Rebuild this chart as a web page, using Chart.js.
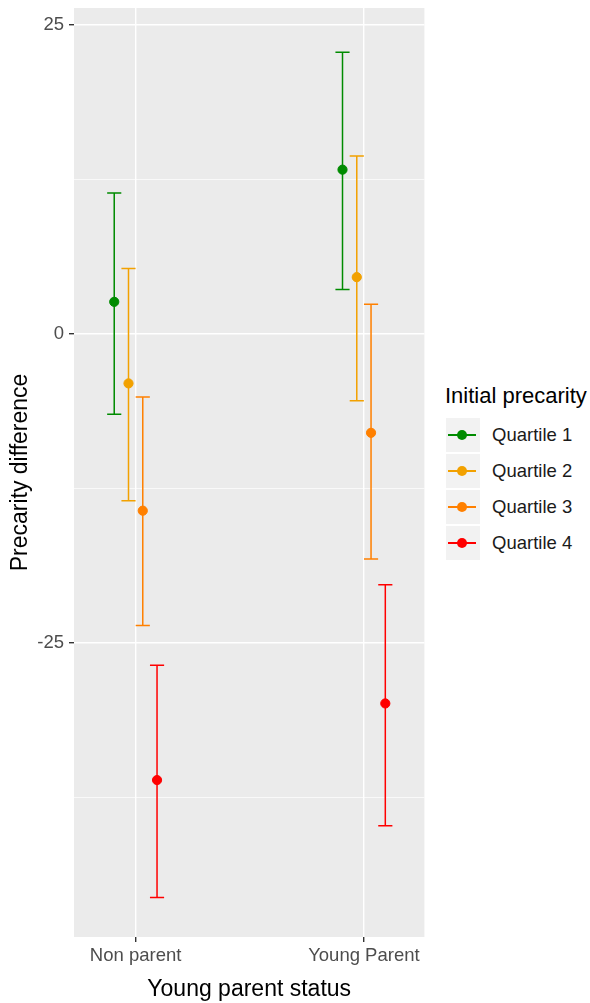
<!DOCTYPE html>
<html>
<head>
<meta charset="utf-8">
<script src="https://cdn.jsdelivr.net/npm/chart.js@4"></script>
<style>
  body { margin: 0; background: #fff; font-family: "Liberation Sans", Arial, sans-serif; }
  #wrap { position: relative; width: 590px; height: 1003px; }
  #chartBox { position: absolute; left: 0; top: 0; width: 430px; height: 1003px; }
  #legend { position: absolute; left: 445px; top: 381px; white-space: nowrap; }
  #legend .title { font-size: 22px; color: #000; line-height: 30px; margin-bottom: 6px; }
  #legend .row { display: flex; align-items: center; height: 36px; }
  #legend .key { position: relative; width: 34px; height: 34px; background: #F2F2F2; margin-left: 1px; }
  #legend .key .ln { position: absolute; left: 2px; right: 4px; top: 16px; height: 2px; }
  #legend .key .dot { position: absolute; left: 11px; top: 12px; width: 10px; height: 10px; border-radius: 50%; }
  #legend .lab { font-size: 18.5px; color: #1a1a1a; margin-left: 12px; }
</style>
</head>
<body>
<div id="wrap">
  <div id="chartBox"><canvas id="chart" width="430" height="1003"></canvas></div>
  <div id="legend"></div>
</div>
<script>
// Categories and groups
const statusLabels = ['Non parent', 'Young Parent'];
const quartiles = ['Quartile 1', 'Quartile 2', 'Quartile 3', 'Quartile 4'];
const quartileColors = ['#008B00', '#F2A100', '#FF8000', '#FF0000'];

// Mean precarity difference, one entry per status (Non parent, Young Parent)
const meanQ1 = [2.6, 13.3];
const meanQ2 = [-4.0, 4.6];
const meanQ3 = [-14.3, -8.0];
const meanQ4 = [-36.1, -29.9];

// Lower / upper bounds of the error bars
const lowQ1 = [-6.5, 3.6];
const highQ1 = [11.4, 22.8];
const lowQ2 = [-13.5, -5.4];
const highQ2 = [5.3, 14.4];
const lowQ3 = [-23.6, -18.2];
const highQ3 = [-5.1, 2.4];
const lowQ4 = [-45.6, -39.8];
const highQ4 = [-26.8, -20.3];

// Y tick values (major labelled, minor only gridlines)
const yMajorTicks = [-25, 0, 25];
const yMinorTicks = [-37.5, -12.5, 12.5];

const means = [meanQ1, meanQ2, meanQ3, meanQ4];
const lows = [lowQ1, lowQ2, lowQ3, lowQ4];
const highs = [highQ1, highQ2, highQ3, highQ4];

// dodge offsets (position_dodge-like) and errorbar cap half width, in x units
const dodge = [-0.09375, -0.03125, 0.03125, 0.09375];
const capHalf = 0.031;

const datasets = quartiles.map((q, i) => ({
    label: q,
    data: statusLabels.map((s, j) => ({ x: j + 1 + dodge[i], y: means[i][j], lo: lows[i][j], hi: highs[i][j] })),
    backgroundColor: quartileColors[i],
    borderColor: quartileColors[i],
    pointRadius: 4.6,
    pointHoverRadius: 4.6,
    showLine: false
}));

// grey panel behind the grid
const panelBg = {
    id: 'panelBg',
    beforeDraw(chart) {
        const { ctx, chartArea: a } = chart;
        ctx.save();
        ctx.fillStyle = '#EBEBEB';
        ctx.fillRect(a.left, a.top, a.right - a.left, a.bottom - a.top);
        ctx.restore();
    }
};

// error bars drawn through the scales
const errorBars = {
    id: 'errorBars',
    beforeDatasetsDraw(chart) {
        const { ctx, scales: { x, y } } = chart;
        ctx.save();
        ctx.lineWidth = 1.5;
        chart.data.datasets.forEach(ds => {
            ctx.strokeStyle = ds.borderColor;
            ds.data.forEach(p => {
                const px = x.getPixelForValue(p.x);
                const x0 = x.getPixelForValue(p.x - capHalf);
                const x1 = x.getPixelForValue(p.x + capHalf);
                const yl = y.getPixelForValue(p.lo);
                const yh = y.getPixelForValue(p.hi);
                ctx.beginPath();
                ctx.moveTo(px, yl); ctx.lineTo(px, yh);
                ctx.moveTo(x0, yl); ctx.lineTo(x1, yl);
                ctx.moveTo(x0, yh); ctx.lineTo(x1, yh);
                ctx.stroke();
            });
        });
        ctx.restore();
    }
};

const tickFont = { family: '"Liberation Sans", Arial, sans-serif', size: 18.5 };
const titleFont = { family: '"Liberation Sans", Arial, sans-serif', size: 23, lineHeight: 1 };

new Chart(document.getElementById('chart'), {
    type: 'scatter',
    data: { datasets },
    options: {
        responsive: false,
        animation: false,
        layout: { padding: { top: 8, right: 5, left: 0, bottom: 0 } },
        plugins: { legend: { display: false }, tooltip: { enabled: false } },
        scales: {
            x: {
                type: 'linear',
                min: 0.73,
                max: 2.265,
                afterBuildTicks: s => { s.ticks = statusLabels.map((l, i) => ({ value: i + 1 })); },
                afterFit: s => { s.height = 66; s.paddingLeft = 0; s.paddingRight = 0; },
                ticks: {
                    callback: v => statusLabels[Math.round(v) - 1],
                    color: '#4D4D4D',
                    font: tickFont,
                    padding: 3,
                    maxRotation: 0,
                    autoSkip: false
                },
                grid: { color: '#FFFFFF', lineWidth: 1.4, tickColor: '#333333', tickLength: 5 },
                border: { display: false },
                title: { display: true, text: 'Young parent status', color: '#000', font: titleFont, padding: { top: 0, bottom: 2 } }
            },
            y: {
                min: -48.8,
                max: 26.38,
                afterBuildTicks: s => {
                    s.ticks = [...yMajorTicks, ...yMinorTicks].sort((a, b) => a - b).map(v => ({ value: v }));
                },
                afterFit: s => { s.width = 74; s.paddingTop = 0; s.paddingBottom = 0; },
                ticks: {
                    callback: v => yMajorTicks.includes(v) ? String(v) : '',
                    color: '#4D4D4D',
                    font: tickFont,
                    padding: 5,
                    autoSkip: false
                },
                grid: {
                    color: '#FFFFFF',
                    lineWidth: c => yMajorTicks.includes(c.tick.value) ? 1.4 : 0.7,
                    tickColor: c => yMajorTicks.includes(c.tick.value) ? '#333333' : 'rgba(0,0,0,0)',
                    tickLength: 5
                },
                border: { display: false },
                title: { display: true, text: 'Precarity difference', color: '#000', font: titleFont, padding: { top: 9, bottom: 0 } }
            }
        }
    },
    plugins: [panelBg, errorBars]
});

// legend built from the same series names and colours
const legendDiv = document.getElementById('legend');
legendDiv.innerHTML = '<div class="title">Initial precarity</div>' +
    quartiles.map((q, i) => `
        <div class="row">
            <div class="key"><div class="ln" style="background:${quartileColors[i]}"></div><div class="dot" style="background:${quartileColors[i]}"></div></div>
            <div class="lab">${q}</div>
        </div>`).join('');
</script>
</body>
</html>
